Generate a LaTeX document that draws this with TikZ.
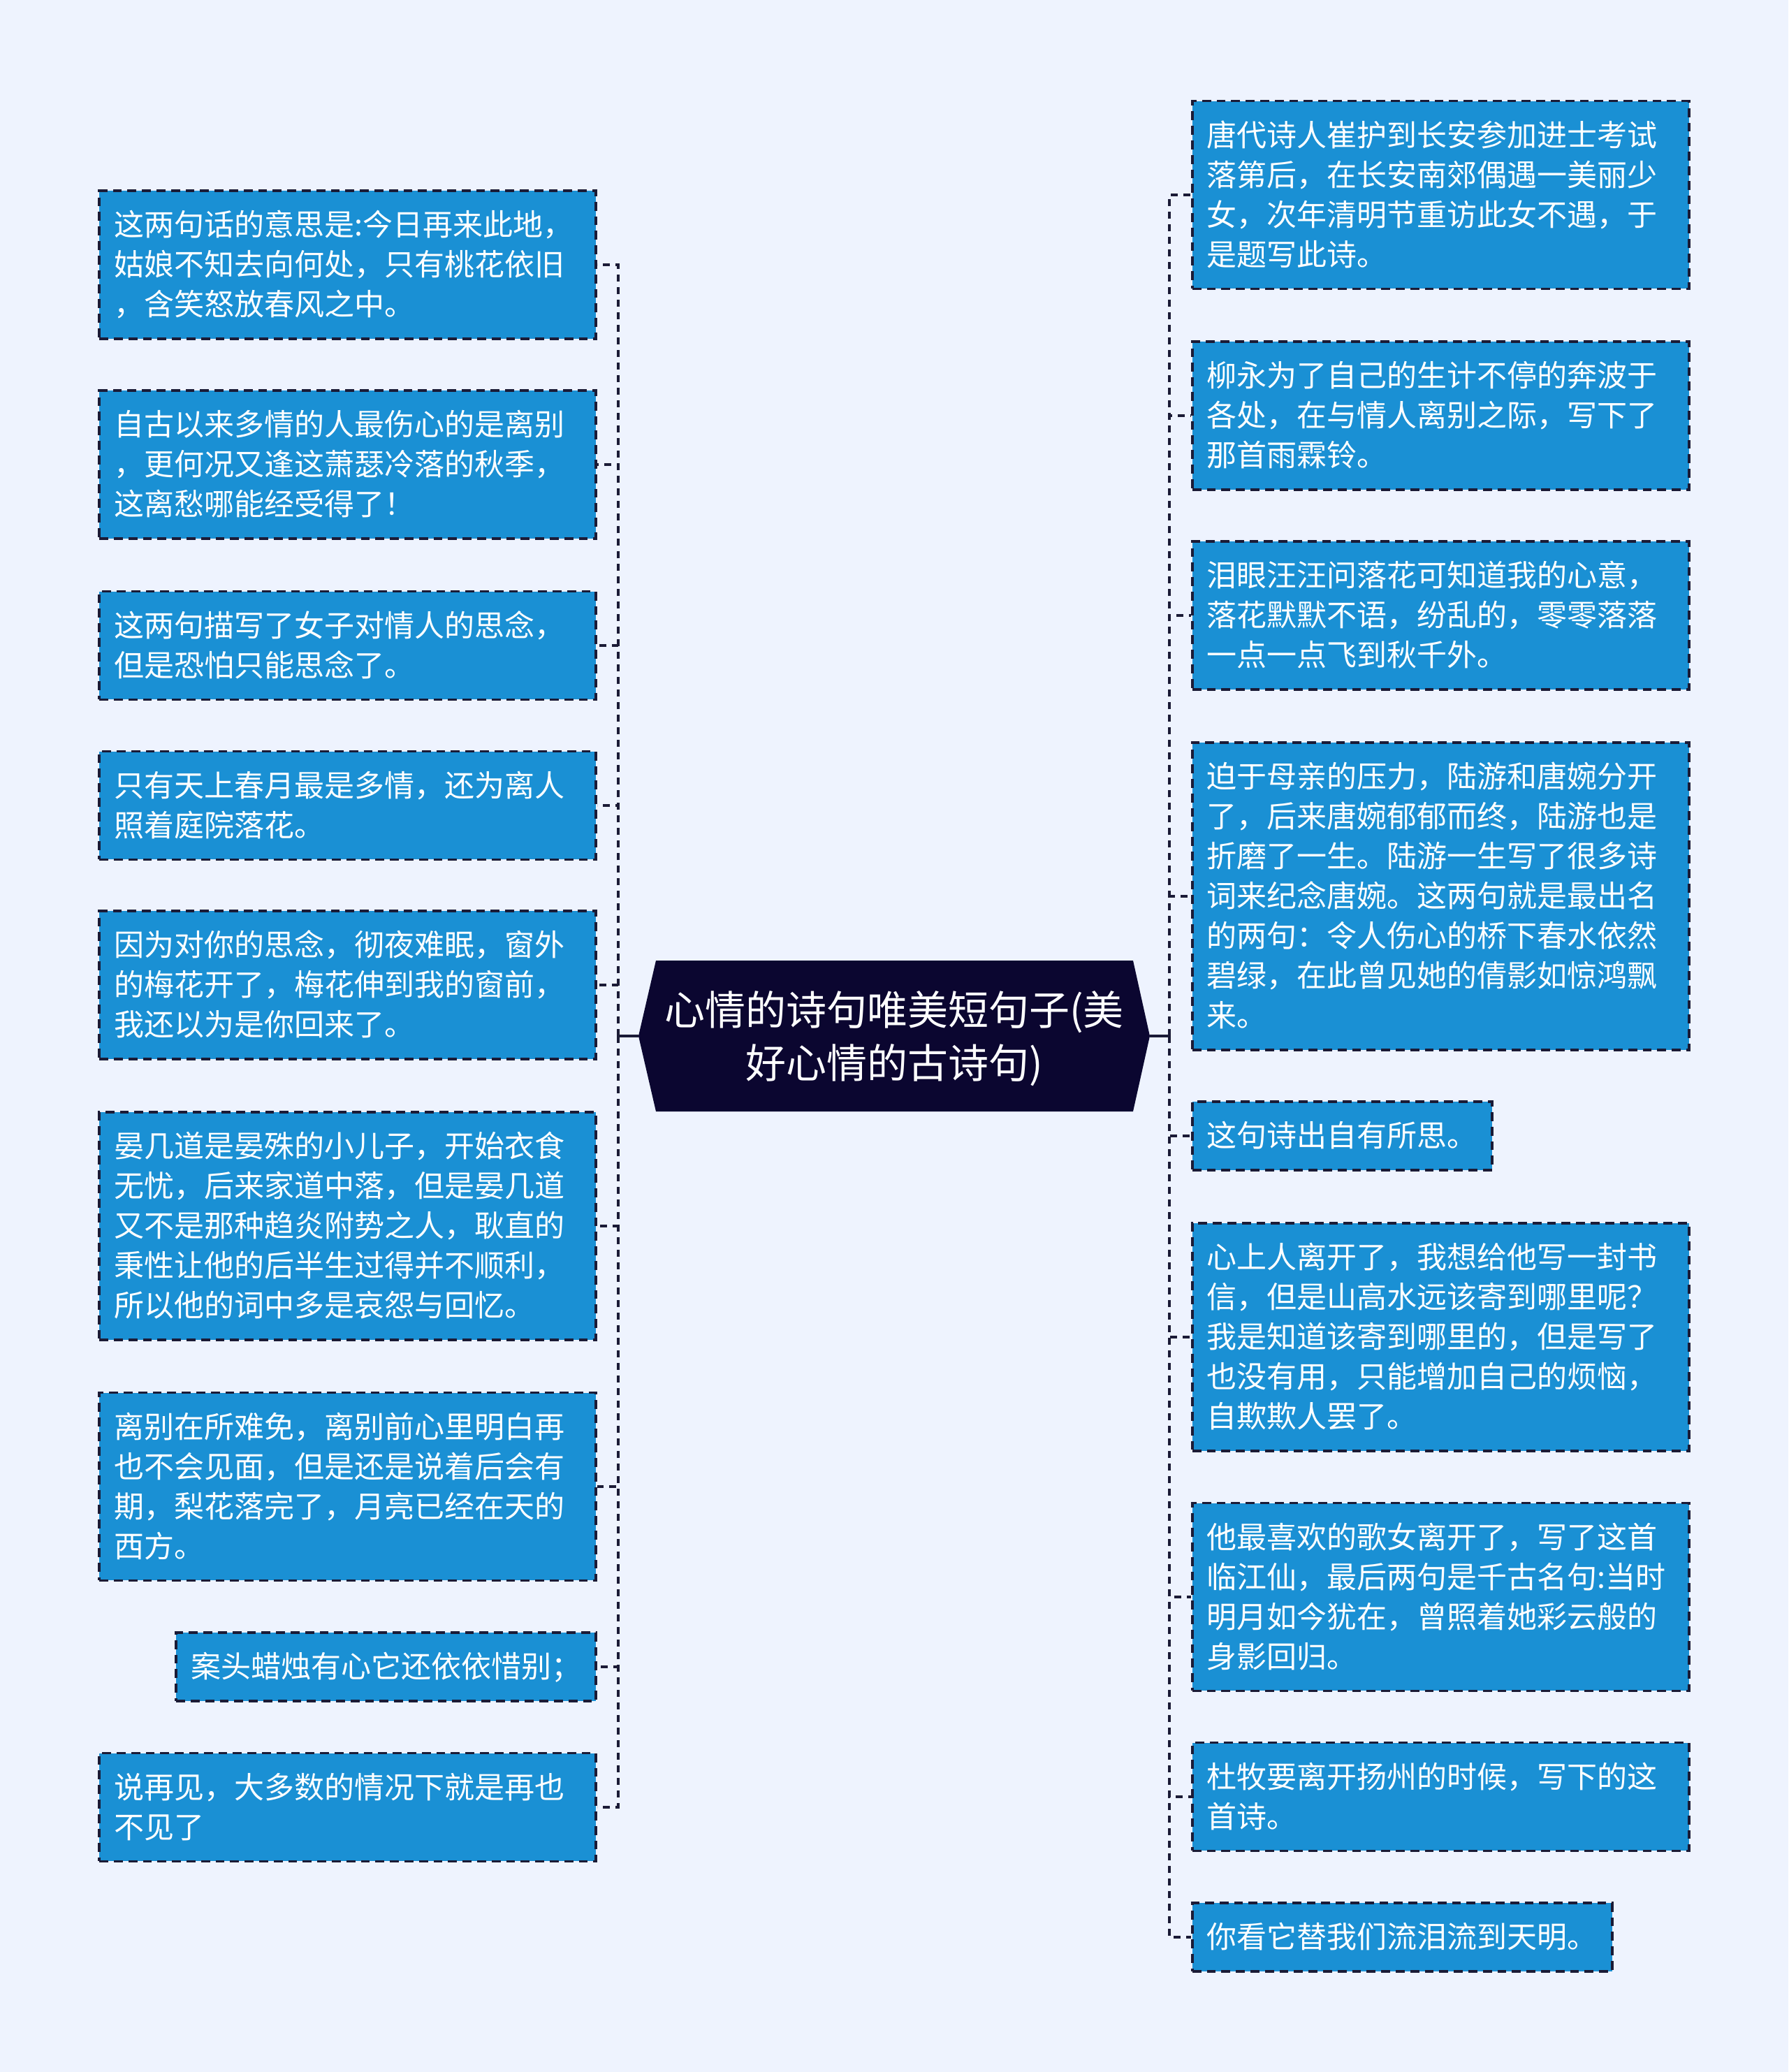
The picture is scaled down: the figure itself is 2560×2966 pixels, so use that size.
\documentclass[tikz,border=0pt]{standalone}
\usepackage{fontspec}
\newfontfamily\cjk{Noto Sans CJK SC}
\usepackage{tikz}
\usetikzlibrary{backgrounds}
\definecolor{pagebg}{HTML}{EEF3FE}
\definecolor{leaffill}{HTML}{1A90D4}
\definecolor{leafline}{HTML}{1B1B36}
\definecolor{rootfill}{HTML}{0B0630}

\begin{document}
\begin{tikzpicture}[x=0.25pt, y=-0.25pt,
	leaf/.style={rectangle, draw=leafline, fill=leaffill, line width=0.9pt, dash pattern=on 3.2pt off 2pt, text=white, font=\cjk\fontsize{10.75}{14.25}\selectfont, inner xsep=5.25pt, inner ysep=5.1pt, execute at begin node=\rule{0pt}{11.1pt}, execute at end node=\rule[-3.15pt]{0pt}{3.15pt}},
	wide/.style={leaf, text width=167.25pt, align=left},
	link/.style={draw=leafline, line width=1pt, dash pattern=on 2.5pt off 2pt}]
			\node[rectangle, text=white, font=\cjk\fontsize{14.5}{19}\selectfont, align=center, minimum width=170.75pt, minimum height=53.75pt, inner sep=0pt] (root) at (1280,1487) {心情的诗句唯美短句子(美\\好心情的古诗句)};
			\coordinate (rl) at (914,1483);
			\coordinate (rr) at (1646,1483);
			\coordinate (lj) at (885,1483);
			\coordinate (rj) at (1674,1483);
			\node[wide, anchor=east] (L1) at (855,379) {这两句话的意思是:今日再来此地，\\姑娘不知去向何处，只有桃花依旧\\，含笑怒放春风之中。};
			\node[wide, anchor=east] (L2) at (855,665) {自古以来多情的人最伤心的是离别\\，更何况又逢这萧瑟冷落的秋季，\\这离愁哪能经受得了！};
			\node[wide, anchor=east] (L3) at (855,924) {这两句描写了女子对情人的思念，\\但是恐怕只能思念了。};
			\node[wide, anchor=east] (L4) at (855,1153) {只有天上春月最是多情，还为离人\\照着庭院落花。};
			\node[wide, anchor=east] (L5) at (855,1410) {因为对你的思念，彻夜难眠，窗外\\的梅花开了，梅花伸到我的窗前，\\我还以为是你回来了。};
			\node[wide, anchor=east] (L6) at (855,1755) {晏几道是晏殊的小儿子，开始衣食\\无忧，后来家道中落，但是晏几道\\又不是那种趋炎附势之人，耿直的\\秉性让他的后半生过得并不顺利，\\所以他的词中多是哀怨与回忆。};
			\node[wide, anchor=east] (L7) at (855,2128) {离别在所难免，离别前心里明白再\\也不会见面，但是还是说着后会有\\期，梨花落完了，月亮已经在天的\\西方。};
			\node[leaf, anchor=east] (L8) at (855,2386) {案头蜡烛有心它还依依惜别；};
			\node[wide, anchor=east] (L9) at (855,2587) {说再见，大多数的情况下就是再也\\不见了};
			\node[wide, anchor=west] (R1) at (1705,279) {唐代诗人崔护到长安参加进士考试\\落第后，在长安南郊偶遇一美丽少\\女，次年清明节重访此女不遇，于\\是题写此诗。};
			\node[wide, anchor=west] (R2) at (1705,595) {柳永为了自己的生计不停的奔波于\\各处，在与情人离别之际，写下了\\那首雨霖铃。};
			\node[wide, anchor=west] (R3) at (1705,881) {泪眼汪汪问落花可知道我的心意，\\落花默默不语，纷乱的，零零落落\\一点一点飞到秋千外。};
			\node[wide, anchor=west] (R4) at (1705,1283) {迫于母亲的压力，陆游和唐婉分开\\了，后来唐婉郁郁而终，陆游也是\\折磨了一生。陆游一生写了很多诗\\词来纪念唐婉。这两句就是最出名\\的两句：令人伤心的桥下春水依然\\碧绿，在此曾见她的倩影如惊鸿飘\\来。};
			\node[leaf, anchor=west] (R5) at (1705,1626) {这句诗出自有所思。};
			\node[wide, anchor=west] (R6) at (1705,1914) {心上人离开了，我想给他写一封书\\信，但是山高水远该寄到哪里呢？\\我是知道该寄到哪里的，但是写了\\也没有用，只能增加自己的烦恼，\\自欺欺人罢了。};
			\node[wide, anchor=west] (R7) at (1705,2286) {他最喜欢的歌女离开了，写了这首\\临江仙，最后两句是千古名句:当时\\明月如今犹在，曾照着她彩云般的\\身影回归。};
			\node[wide, anchor=west] (R8) at (1705,2572) {杜牧要离开扬州的时候，写下的这\\首诗。};
			\node[leaf, anchor=west] (R9) at (1705,2773) {你看它替我们流泪流到天明。};
			\begin{scope}[on background layer]
				\fill[pagebg] (0,0) rectangle (2560,2966);
				\fill[rootfill] (914,1483) ++(25,-108) -- ++(683,0) -- (rr) -- ++(-24,108) -- ++(-683,0) -- (rl) -- cycle;
			\end{scope}
			\draw[leafline, line width=1pt] (rl) -- (lj) (rr) -- (rj);
			\foreach \i in {1,...,9} \draw[link] (lj) |- (L\i.east);
			\foreach \i in {1,...,9} \draw[link] (rj) |- (R\i.west);
		\end{tikzpicture}
\end{document}
